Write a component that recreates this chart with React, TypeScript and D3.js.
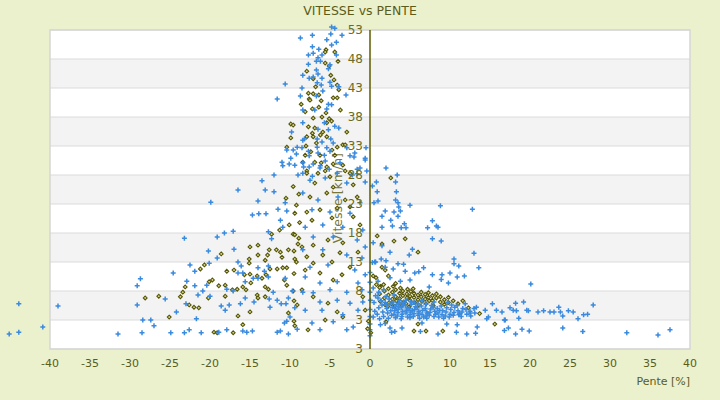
import * as d3 from "d3";

// [pente %, vitesse]
const bluePoints: [number, number][] = [
  // upper column
  [-4.8, 53.5], [-4.4, 53.3], [-8.7, 51.6], [-7.2, 52.1], [-4.9, 52.3], [-3.5, 52.1], [-5.4, 51.3], [-4.2, 50.9],
  [-4.8, 50.4], [-7.2, 50.1], [-6.4, 49.7], [-7.7, 48.7], [-7.1, 49], [-6, 48.7], [-6.5, 48.2], [-4.2, 48.7],
  [-7.7, 47.1], [-6.7, 47.6], [-6.2, 47.6], [-5, 47], [-5.2, 46.3], [-6.7, 46.1], [-6.5, 45.4], [-8.4, 45.2],
  [-7.6, 44.7], [-7.1, 44.9], [-6, 44.7], [-10.6, 43.7], [-6.6, 43.9], [-5, 44], [-8.5, 43], [-6.1, 43.5],
  [-4.8, 43.3], [-3.9, 43.2], [-5.9, 42.5], [-8.7, 41.6], [-11.6, 41.1], [-6.7, 41.6], [-3, 41.8], [-5.2, 40.2],
  [-4.8, 40.1], [-8.4, 39.2], [-6.9, 39.2], [-5.4, 39.4], [-8.4, 37], [-5.7, 37], [-4.4, 36.4], [-3.9, 36.1],
  [-6.5, 35.9], [-5.2, 35.8], [-9.8, 35.4], [-8.2, 34.2], [-6.6, 34.2], [-4.9, 34.2], [-6, 33.7], [-9.1, 32.8],
  [-10.4, 32.3], [-9.6, 32.3], [-8.5, 32.7], [-7.7, 32.1], [-5.4, 32.7], [-5, 32.1], [-9.2, 31.6], [-7.6, 31.3],
  [-6.5, 31.8], [-5.7, 31.4], [-2.9, 32.7], [-2.5, 31.3], [-2, 31.1], [-0.5, 32.7], [-0.6, 30.6], [-9.9, 30.9],
  [-11, 30.2], [-10.9, 29.6], [-10.1, 29.9], [-9.4, 29.7], [-8.3, 29.4], [-7.6, 29.4], [-7.1, 29.9], [-6.2, 29.6],
  [-5.6, 30.4], [-5.1, 29], [-1.6, 29], [-0.4, 28.7], [-9, 28], [-8.4, 28.3], [-7.2, 27.8], [-4.1, 28.3],
  [-2.2, 28], [-1.6, 28.2],
  // middle, left of zero
  [-8.4, 34], [-6.6, 32.8], [-4.6, 33.5], [-1.9, 31.8], [-0.6, 30.9], [-8.4, 30.1], [-6.25, 29.2], [-3.75, 30.1],
  [-1.25, 29.2], [-7.5, 27.1], [-5.6, 27.5], [-2.9, 26.6], [-0.6, 26.8], [-8.4, 24.9], [-6.5, 23.7], [-4, 24.2],
  [-1.25, 23.2], [-7.25, 22], [-5, 21.6], [-2.5, 21.4], [-8.1, 19], [-5.9, 19.4], [-3.4, 19], [-0.9, 18.5],
  [-7.1, 17.3], [-4.6, 17.3], [-1.6, 16.8], [-0.6, 15.6], [-8.4, 15.1], [-5.9, 15.1], [-2.9, 14.2], [-1, 13.7],
  [-7.5, 12.1], [-5.25, 12.5], [-1.9, 11.6], [-0.6, 10.8], [-8.1, 10.4], [-6.25, 9.4], [-4.1, 9.6], [-1.5, 9.4],
  [-8.4, 7.8], [-7.1, 7.7], [-5, 8.2], [-2.9, 7.8], [-1, 8.2], [-6.25, 6.1], [-4.1, 6.4], [-2.5, 5.9],
  [-0.9, 6.1], [-8.1, 4.7], [-6, 4.7], [-3.4, 3.9], [-1.5, 4.7], [-7.25, 2.5], [-4.6, 2.7], [-2.1, 1.8],
  [-6.25, 1.3], [-2.9, 1.3],
  // on the zero line
  [0, 11.2], [0, 9.5], [0, 7.8], [0.05, 6.4], [0, 4.8], [0, 3.6], [0, 2.3], [0, 1.3], [0, 0.3],
  // left spread
  [-12, 28], [-13.5, 27], [-16.5, 25.4], [-13.1, 25.4], [-12, 25.1], [-19.9, 23.3], [-14, 23.5], [-10.6, 23.2],
  [-14.7, 21.1], [-13.9, 21.3], [-13, 21.3], [-11.5, 22.1], [-10.4, 21.8], [-11.2, 20.2], [-10.9, 19], [-23.2, 17.1],
  [-19.1, 17.3], [-18.2, 18], [-17.1, 18.3], [-12.7, 18.2], [-12.3, 17], [-20.2, 14.9], [-17, 15.2], [-19.1, 13.7],
  [-22.5, 12.5], [-21.9, 11.4], [-20.1, 12.8], [-16.5, 13], [-16.1, 12.3], [-14, 12], [-12.7, 12.3], [-24.6, 11.1],
  [-28.7, 10.1], [-29.1, 8.9], [-22.9, 9.7], [-21.9, 8.9], [-20.4, 9], [-21.5, 7.3], [-20.9, 8], [-20, 7.1],
  [-17.9, 8.3], [-17.1, 8], [-16.5, 11.1], [-15.9, 11.1], [-15.6, 9.6], [-14.6, 10.2], [-14, 10.2], [-13.2, 11.4],
  [-12.7, 10.4], [-10.6, 10.2], [-12.1, 7.8], [-11.6, 6.4], [-12.6, 6.6], [-10.2, 6.8], [-9.7, 8], [-15.6, 6.8],
  [-16.2, 5.8], [-14.5, 6.1], [-17.6, 5.6], [-18.6, 5.4], [-18.1, 4.7], [-23, 5.8], [-25.6, 6.6], [-29.1, 5.6],
  [-39, 5.4], [-43.9, 5.8], [-24.2, 4.4], [-28.4, 3], [-27.4, 3], [-27, 2], [-21.7, 3.2], [-12.5, 5.2],
  [-11.1, 5.8], [-10.5, 5.8], [-9.4, 5.1], [-10.7, 2.5], [-10.4, 2.8], [-10, 3.5], [-40.9, 1.8], [-43.9, 0.9],
  [-45.1, 0.6], [-31.5, 0.6], [-28.5, 0.8], [-24.9, 0.8], [-23.2, 0.8], [-22.6, 1.3], [-21.1, 0.8], [-18.9, 0.9],
  [-17.9, 1.3], [-15.9, 1.1], [-15.4, 0.9], [-14.7, 1.1], [-11.6, 0.9], [-11.2, 1.1], [-10.2, 0.6], [-9.1, 1.4],
  // right, upper scatter
  [2, 29.2], [3.4, 28], [0.8, 26.8], [0.3, 26.1], [3.2, 26.8], [0.9, 25.1], [3.3, 25.1], [0.5, 23.2],
  [1, 23.5], [3.2, 23.7], [3.5, 23.2], [3.6, 22.5], [5, 22.8], [8.8, 22.7], [12.8, 22.1], [1.9, 21.8],
  [3, 21.6], [3.8, 21.8], [1.5, 20.9], [3.5, 20.9], [2.6, 20.2], [7.8, 20.1], [4.3, 19.6], [1.5, 19],
  [2.8, 19.2], [3.9, 18.9], [4.5, 18.9], [7.2, 18.9], [8.3, 19.2], [8.5, 19], [7.8, 17], [8.9, 16.6],
  [0.4, 16.3], [1.5, 15.8], [5.3, 15.2], [2.5, 14.7], [4.9, 14.2], [13, 14.5], [10.5, 13.5], [10.5, 12.7],
  [11.1, 12.3], [13.6, 12], [1.4, 13.5], [2, 13.2], [0.7, 13], [6.7, 12], [6.1, 11.3], [5.6, 11.1],
  [7.8, 10.8], [9, 10.8], [10, 11.1], [10.9, 10.4], [11.8, 10.6], [20.1, 9.2], [9.8, 9.4], [8.9, 10],
  [7.4, 8.7], [0.3, 12.9], [0.6, 13], [1.9, 12.1], [2.9, 11.8], [3.5, 12.7], [4.2, 12.6], [4.4, 11.4],
  [5, 9.9], [3.8, 9.7], [2.5, 10.3], [1, 9.7], [0.4, 8.5], [1.7, 8.2],
  // right, dense core
  [0.5, 6], [0.6, 4.5], [0.4, 3.5], [0.7, 7.2], [1.1, 5.1], [1, 6.8], [0.9, 4], [1.2, 3.2], [1.1, 7.8],
  [1.5, 5.6], [1.6, 4.4], [1.4, 6.3], [1.7, 3.6], [2.1, 5], [1.9, 6], [2.2, 4.2], [2, 7], [2.3, 3.3], [2.1, 5.5],
  [2.6, 4.6], [2.5, 5.8], [2.7, 3.8], [2.4, 6.6], [2.8, 5.2], [3, 4], [3.1, 5], [2.9, 6.1], [3.2, 3.4],
  [3.1, 4.6], [3, 7.3], [3.3, 5.6], [3.5, 4.3], [3.6, 5.3], [3.4, 3.7], [3.7, 6.3], [3.5, 4.8], [3.6, 5.9],
  [4, 3.6], [4.1, 4.5], [3.9, 5.1], [4.2, 6], [4, 4], [4.1, 5.6], [3.9, 3.2], [4.5, 4.2], [4.6, 4.9],
  [4.4, 5.5], [4.7, 3.5], [4.5, 6.4], [4.6, 4.6], [5, 3.9], [5.1, 4.4], [4.9, 5], [5.2, 5.7], [5, 3.4],
  [5.1, 6.2], [5.3, 4.7], [5.5, 4.1], [5.6, 4.8], [5.4, 3.6], [5.7, 5.3], [5.5, 6], [6, 3.8], [6.1, 4.5],
  [5.9, 5.1], [6.2, 3.3], [6, 5.8], [6.1, 4.2], [6.5, 4], [6.6, 4.7], [6.4, 5.4], [6.7, 3.5], [6.5, 6.3],
  [7, 3.7], [7.1, 4.4], [6.9, 5], [7.2, 4.1], [7, 5.7], [7.1, 3.3], [7.5, 4.3], [7.6, 4.9], [7.4, 3.8],
  [7.7, 5.5], [8, 3.6], [8.1, 4.5], [7.9, 5.2], [8.2, 4], [8, 6.1], [8.5, 4.2], [8.6, 3.5], [8.4, 5],
  [8.7, 4.7], [9, 3.9], [9.1, 4.6], [8.9, 5.4], [9.2, 3.3], [9.5, 4.4], [9.6, 5.1], [9.4, 3.7], [9.7, 6],
  [10, 4], [10.1, 4.8], [9.9, 3.5], [10.2, 5.6], [10.5, 4.3], [10.6, 5.2], [10.4, 3.8], [11, 4.6], [11.1, 3.9],
  [10.9, 5.5], [11.2, 4.1], [11.5, 4.4], [11.6, 5], [11.4, 3.6], [12, 4.8], [12.1, 4], [11.9, 5.8], [12.5, 4.5],
  [12.6, 3.7], [13, 5], [13.1, 4.2],
  // right, tail
  [12.5, 4.2], [13.3, 5.2], [14.4, 4.7], [14.8, 3.5], [15.3, 5.8], [15.8, 4.7], [16.5, 4.4], [16.9, 3],
  [17.5, 5.1], [17.9, 4.7], [18.3, 4.6], [18.6, 3.3], [19.2, 6.1], [19.6, 4.7], [19.8, 4.6], [21, 4.4],
  [21.7, 4.6], [22.5, 4.4], [23, 4.4], [23.6, 5.2], [23.8, 4.4], [24.1, 3.7], [24.8, 4.6], [25.4, 4.4],
  [26, 3.2], [26.7, 3.9], [27.2, 4], [27.9, 5.6], [18.2, 5.9], [16.8, 3], [17.3, 1.6], [18.2, 0.6],
  [19, 1.4], [19.9, 1.1], [16.8, 1.2], [24.1, 1.6], [26.6, 1], [32.1, 0.8], [36, 0.4], [37.5, 1.3],
  // right, lower row
  [1.3, 2.2], [2.7, 0.9], [3.1, 1], [4, 1.6], [6.3, 1], [6.5, 2.5], [8.5, 0.6], [9.6, 2.3], [10.8, 0.9],
  [10.9, 2.2], [12.1, 0.6], [13.2, 0.7], [13.4, 1.8], [14.6, 3.2], [1.9, 2.4], [2.5, 1.6],
];

const olivePoints: [number, number][] = [
  // upper column
  [-5.5, 49.6], [-4, 47.6], [-5.6, 47.3], [-5.1, 46.8], [-7.9, 45.9], [-7.1, 44.6], [-4.5, 44.4], [-4.1, 43.5],
  [-3.9, 42.7], [-7.7, 42.1], [-7.1, 42], [-6.4, 41.8], [-4.6, 41.3], [-4.1, 41.3], [-7.6, 41.1], [-8.6, 40.2],
  [-6.1, 40.8], [-7.2, 39.4], [-6.4, 39.7], [-3.7, 39.2], [-8.1, 38.9], [-5.5, 38.7], [-7.1, 37.8], [-6, 38],
  [-5.1, 37.7], [-9.9, 36.8], [-7.7, 36.3], [-6.9, 36.1], [-5.4, 37], [-4.8, 37.3], [-2.9, 35.4], [-9.9, 34.4],
  [-7.9, 34.6], [-7.2, 35.2], [-6.2, 34.9], [-5.4, 34.6], [-6.7, 33.5], [-8, 33], [-10.4, 32.8], [-4.1, 32.8],
  [-3.4, 33.2], [-7.4, 32], [-4.4, 31.4], [-8.4, 30.2], [-6.9, 30.2], [-4.6, 29.9], [-7.9, 28.7], [-6.5, 28.3],
  [-5.6, 28.7], [-3.4, 29.7], [-6.1, 30.1], [-3.1, 28.7], [-5, 27.7], [-5.6, 49.2], [-4.4, 49.2], [-7.5, 40.9],
  [-9.6, 36.6], [-4.9, 45.2], [-6.8, 43.2],
  // middle, left of zero
  [-7.1, 34.6], [-5.9, 35.4], [-3.1, 33.2], [-8.1, 31.4], [-6.25, 31.4], [-4.75, 32.3], [-7.9, 28.3], [-5.4, 29.4],
  [-2.5, 28.3], [-6.9, 26.6], [-4.6, 25.9], [-2.1, 26.3], [-7.5, 24.2], [-5.4, 24.9], [-3.1, 23.7], [-1.6, 24.2],
  [-7.9, 21.6], [-6.25, 22], [-4.1, 22.3], [-2.5, 22.5], [-7.25, 20.2], [-4.75, 20.6], [-2.1, 20.8], [-1.25, 19.4],
  [-8.5, 15.6], [-7.1, 15.9], [-5.25, 16.8], [-3.4, 16.3], [-7.9, 13.9], [-5.9, 14.2], [-3.75, 14.6], [-1.5, 14.7],
  [-7.1, 12.8], [-4.75, 13], [-2.5, 12.1], [-8.1, 11.6], [-6.25, 11.1], [-4.6, 9.9], [-3.5, 10.8], [-8.5, 8.2],
  [-7.1, 7], [-5.25, 5.9], [-4.1, 4.4], [-7.75, 1.3], [-5.6, 3], [-3.4, 3.5], [-0.9, 7], [-0.6, 4.7],
  [-9.6, 26], [-10.5, 24], [-9.2, 22.8], [-11.3, 18.5], [-8.8, 19.8], [-9.5, 11], [-11, 13.8], [-8.9, 17.1],
  [-0.3, 1.5], [-0.2, 2.8], [0.1, 0.8],
  // left spread
  [-12.3, 17.8], [-15, 15.6], [-14, 15.9], [-14, 14.2], [-12.8, 14.2], [-12.6, 15.1], [-11.7, 15.1], [-11.2, 14.7],
  [-10.2, 15.1], [-15.1, 13.5], [-15.1, 12.8], [-13.1, 13.3], [-18.6, 14.4], [-20.7, 12.5], [-21.2, 11.8], [-17.9, 11.4],
  [-17, 11.6], [-15.7, 10.8], [-15, 10.9], [-14.9, 9.4], [-14.1, 10.6], [-13.5, 10.2], [-13, 10.8], [-12.5, 11.8],
  [-11.6, 11.8], [-10.9, 12], [-10.4, 12], [-19.7, 9.9], [-20.1, 9.6], [-23.1, 8.7], [-23.4, 7.8], [-18.9, 8.9],
  [-18.1, 9], [-17.2, 8.2], [-16.6, 8.3], [-15.9, 8.7], [-15.5, 8.2], [-13.1, 8.7], [-12.7, 8.3], [-14.1, 7.3],
  [-14, 6.8], [-13.1, 7], [-28.1, 6.8], [-26.4, 7.1], [-23.7, 7], [-22.6, 5.6], [-22, 5.2], [-21.4, 5.1],
  [-20.2, 6.8], [-18.1, 7.1], [-25.1, 3.5], [-16.5, 3.7], [-15, 4.4], [-15.9, 2.2], [-19.5, 0.9], [-19.1, 0.8],
  [-17.1, 0.8], [-10.2, 4.2], [-9.5, 2.8], [-9.4, 2], [-9.5, 6.3], [-9.1, 5.6], [-9.6, 8], [-10.4, 9],
  [-10.7, 9.9], [-9.4, 13.5], [-9.2, 13], [-9.5, 14.9], [-10.1, 19.4], [-9.6, 17.8], [-9.4, 21.4], [-8.9, 24.7],
  [-9.4, 17.7], [-9, 16.1],
  // right, scatter
  [2.6, 27.5], [0.9, 17.5], [1.5, 16.1], [3, 16.6], [4.4, 17], [6, 14.7], [15.6, 2.3], [5.5, 1.1],
  [7, 1.1], [6, 2.3], [2, 2.7], [9.1, 1.1], [0.4, 10.6], [0.75, 10.3], [1.5, 12.1], [1.9, 11.6],
  [0.8, 9.1], [1.3, 8.8], [2.3, 10.6], [12.3, 5.1], [13.7, 4.1], [11.6, 6.3],
  // right, dense core
  [1.2, 7.5], [1.2, 8.6], [1.3, 6.2], [1.8, 6.8], [1.8, 8], [1.9, 5.6], [1.7, 9.1], [2.3, 7.3], [2.3, 8.4],
  [2.4, 6], [2.2, 5.3], [2.8, 6.6], [2.8, 7.8], [2.9, 8.8], [2.7, 5.8], [3.2, 7], [3.2, 8.2], [3.3, 6.3],
  [3.1, 5.4], [3.2, 9.3], [3.7, 6.7], [3.7, 7.6], [3.8, 8.5], [3.6, 5.9], [4.1, 7.2], [4.1, 8], [4.2, 6.1],
  [4, 5.5], [4.6, 6.8], [4.6, 7.5], [4.7, 8.3], [4.5, 5.8], [5, 6.4], [5, 7.1], [5.1, 7.9], [4.9, 5.3],
  [5.5, 6.9], [5.5, 7.6], [5.6, 6], [5.4, 8.4], [6, 6.5], [6, 7.3], [6.1, 5.6], [6.4, 7], [6.4, 7.8],
  [6.5, 6.2], [6.9, 6.6], [6.9, 7.4], [7, 5.8], [7.3, 6.9], [7.3, 7.7], [7.4, 6.3], [7.8, 6.4], [7.8, 7.2],
  [7.9, 5.5], [8.3, 6.8], [8.3, 7.5], [8.8, 6.1], [8.8, 7], [9.3, 6.5], [9.3, 5.7], [9.8, 6.9], [9.8, 6],
  [10.4, 6.3], [11, 5.8],
];

const xTicks = [-40, -35, -30, -25, -20, -15, -10, -5, 0, 5, 10, 15, 20, 25, 30, 35, 40];
const yTicks = [53, 48, 43, 38, 33, 28, 23, 18, 13, 8, 3, -2];
const yTickLabels = ["53", "48", "43", "38", "33", "28", "23", "18", "13", "8", "3", "3"];

const OLIVE = "#55550a";
const BLUE = "#3a8ade";
const FONT = "DejaVu Sans, sans-serif";

export default function App() {
  const width = 720;
  const height = 400;
  const x = d3.scaleLinear().domain([-40, 40]).range([50, 690]);
  const y = d3.scaleLinear().domain([-2, 53]).range([349, 30]);

  const plus = "M-2.5,0H2.5M0,-2.5V2.5";
  const diamond = "M0,-1.9L1.9,0L0,1.9L-1.9,0Z";

  return (
    <div style={{ position: "absolute", left: 0, top: 0 }}>
      <svg width={width} height={height} style={{ display: "block" }}>
        <rect width={width} height={height} fill="#ebf0cd" />

        {/* bands */}
        {yTicks.slice(0, -1).map((t, i) => (
          <rect
            key={"b" + t}
            x={x(-40)}
            y={y(t)}
            width={x(40) - x(-40)}
            height={y(yTicks[i + 1]) - y(t)}
            fill={i % 2 === 0 ? "#ffffff" : "#f3f3f3"}
          />
        ))}
        {yTicks.map((t) => (
          <line key={"g" + t} x1={x(-40)} x2={x(40)} y1={y(t)} y2={y(t)} stroke="#dcdcdc" strokeWidth={1.2} />
        ))}
        <rect
          x={x(-40)}
          y={y(53)}
          width={x(40) - x(-40)}
          height={y(-2) - y(53)}
          fill="none"
          stroke="#d6d6d6"
          strokeWidth={1.5}
        />

        {/* y axis title, drawn under the points */}
        <text
          transform={`translate(${x(-3.9)},${y(24)}) rotate(-90)`}
          textAnchor="middle"
          dominantBaseline="middle"
          fontFamily={FONT}
          fontSize={12.5}
          fill="#77773a"
        >
          Vitesse [km/h]
        </text>

        {/* points */}
        <g stroke={OLIVE} strokeWidth={1.1} fill="#dede90">
          {olivePoints.map(([px, py], i) => (
            <path key={"o" + i} d={diamond} transform={`translate(${x(px)},${y(py)})`} />
          ))}
        </g>
        <g stroke={BLUE} strokeWidth={1.5} fill="none">
          {bluePoints.map(([px, py], i) => (
            <path key={"p" + i} d={plus} transform={`translate(${x(px)},${y(py)})`} />
          ))}
        </g>

        {/* vertical axis at x = 0 */}
        <line x1={x(0)} x2={x(0)} y1={y(53)} y2={y(-2)} stroke="#5c5c00" strokeWidth={1.5} />
        {yTicks.map((t, i) => (
          <text
            key={"yl" + t}
            x={x(0) - 7}
            y={y(t)}
            textAnchor="end"
            dominantBaseline="central"
            fontFamily={FONT}
            fontSize={12}
            fill="#6b6b22"
          >
            {yTickLabels[i]}
          </text>
        ))}

        {/* x tick labels */}
        {xTicks.map((t) => (
          <text
            key={"xl" + t}
            x={x(t)}
            y={363}
            textAnchor="middle"
            dominantBaseline="central"
            fontFamily={FONT}
            fontSize={11}
            fill="#5c5c1a"
          >
            {t}
          </text>
        ))}
        <text x={x(40)} y={381} textAnchor="end" dominantBaseline="central" fontFamily={FONT} fontSize={11} fill="#5c5c1a">
          Pente [%]
        </text>

        <text x={360} y={10} textAnchor="middle" dominantBaseline="central" fontFamily={FONT} fontSize={12.5} fill="#5c5c1a">
          VITESSE vs PENTE
        </text>
      </svg>
    </div>
  );
}
